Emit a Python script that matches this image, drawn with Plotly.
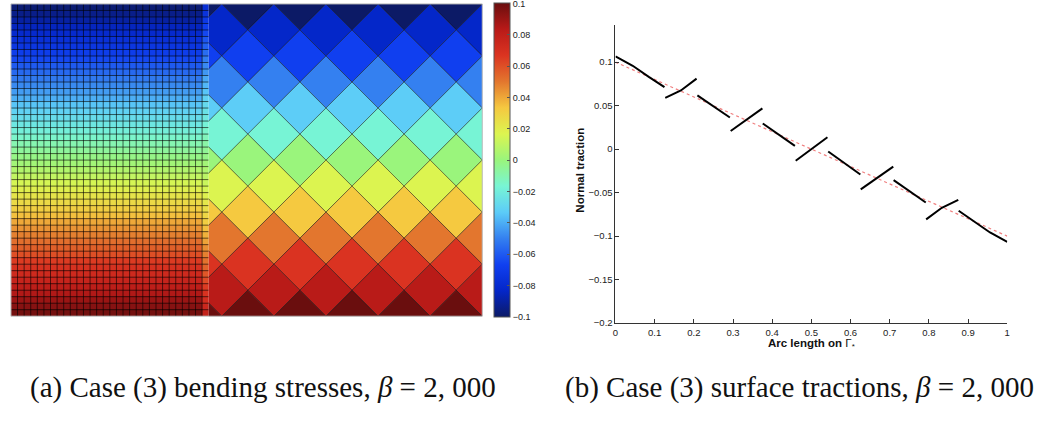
import plotly.graph_objects as go
from plotly.colors import sample_colorscale

# ---------------- data ----------------
# (a) fine mesh: stress per row (top -> bottom), 48 rows x 30 columns
fine_row_stress = [-0.098, -0.094, -0.090, -0.085, -0.081, -0.077, -0.073, -0.069,
                   -0.065, -0.060, -0.056, -0.052, -0.048, -0.044, -0.040, -0.035,
                   -0.031, -0.027, -0.023, -0.019, -0.015, -0.010, -0.006, -0.002,
                   0.002, 0.006, 0.010, 0.015, 0.019, 0.023, 0.027, 0.031,
                   0.035, 0.040, 0.044, 0.048, 0.052, 0.056, 0.060, 0.065,
                   0.069, 0.073, 0.077, 0.081, 0.085, 0.090, 0.094, 0.098]
# last (interface) column of the fine mesh
interface_col_stress = [-0.078, -0.075, -0.071, -0.068, -0.065, -0.061, -0.058, -0.055,
                        -0.051, -0.048, -0.045, -0.041, -0.038, -0.035, -0.031, -0.028,
                        -0.025, -0.022, -0.018, -0.015, -0.012, -0.008, -0.005, -0.002,
                        0.002, 0.005, 0.008, 0.012, 0.015, 0.018, 0.022, 0.025,
                        0.028, 0.031, 0.035, 0.038, 0.041, 0.045, 0.048, 0.051,
                        0.055, 0.058, 0.061, 0.065, 0.068, 0.071, 0.075, 0.078]
n_fine_cols = 30
# (a) coarse rotated mesh: stress per diamond row (top -> bottom)
diamond_row_stress = [-0.1, -0.083, -0.067, -0.05, -0.033, -0.017, 0.0,
                      0.017, 0.033, 0.05, 0.067, 0.083, 0.1]
n_diamonds_per_row = 6
colorbar_ticks = [-0.1, -0.08, -0.06, -0.04, -0.02, 0, 0.02, 0.04, 0.06, 0.08, 0.1]
colorbar_ticktext = ["\u22120.1", "\u22120.08", "\u22120.06", "\u22120.04", "\u22120.02",
                     "0", "0.02", "0.04", "0.06", "0.08", "0.1"]

# (b) normal traction along Gamma_*, element by element
seg_s = [[0.0, 0.044, 0.085, 0.125], [0.127, 0.167, 0.207], [0.209, 0.292],
         [0.294, 0.375], [0.376, 0.458], [0.460, 0.541], [0.543, 0.625],
         [0.626, 0.709], [0.710, 0.792], [0.793, 0.833, 0.875],
         [0.876, 0.915, 0.956, 1.0]]
seg_v = [[0.1065, 0.0958, 0.083, 0.0712], [0.059, 0.0674, 0.081], [0.0617, 0.0364],
         [0.0208, 0.0469], [0.0295, 0.0038], [-0.0133, 0.0136], [-0.0027, -0.0292],
         [-0.0462, -0.0201], [-0.0356, -0.0614], [-0.0807, -0.0674, -0.0583],
         [-0.0708, -0.083, -0.0958, -0.1065]]
ref_s = [0.0, 1.0]
ref_v = [0.1, -0.1]

# ---------------- styling ----------------
W, H = 1053, 423
def PX(p): return p / W
def PY(p): return 1 - p / H

stops = ['#0C1A66', '#0426C8', '#1040F0', '#3480F0', '#5CCCF8', '#78F5D4', '#9AF57C',
         '#DCF550', '#F5C840', '#E3762E', '#DB3421', '#B81A18', '#6A0E0E']
cscale = [[i / 12, c] for i, c in enumerate(stops)]
VMIN, VMAX = -0.1, 0.1
def vcolor(v):
    t = min(1, max(0, (v - VMIN) / (VMAX - VMIN)))
    return sample_colorscale(cscale, [t])[0]

fig = go.Figure()

# fine mesh heatmap
z = [[fine_row_stress[r]] * (n_fine_cols - 1) + [interface_col_stress[r]]
     for r in range(len(fine_row_stress))]
nrows = len(fine_row_stress)
fig.add_trace(go.Heatmap(
    z=z, x=[c + 0.5 for c in range(n_fine_cols)], y=[r + 0.5 for r in range(nrows)],
    colorscale=cscale, zmin=VMIN - 0.0002, zmax=VMAX + 0.0002, hoverinfo='skip',
    xaxis='x', yaxis='y',
    colorbar=dict(x=PX(494), xanchor='left', xpad=0, y=PY(321), yanchor='bottom',
                  ypad=0, len=318 / H, lenmode='fraction', thickness=16,
                  thicknessmode='pixels', outlinewidth=1, outlinecolor='#555',
                  tickvals=colorbar_ticks, ticktext=colorbar_ticktext,
                  ticks='inside', ticklen=3, tickcolor='#555',
                  ticklabeloverflow='allow',
                  tickfont=dict(family='Arial', size=9, color='#222'))))

# fine mesh lines
gx, gy = [], []
for k in range(1, n_fine_cols):
    gx += [k, k, None]; gy += [0, nrows, None]
for r in range(1, nrows):
    gx += [0, n_fine_cols, None]; gy += [r, r, None]
fig.add_trace(go.Scatter(x=gx, y=gy, mode='lines', xaxis='x', yaxis='y',
                         line=dict(color='rgba(0,0,0,0.6)', width=1), hoverinfo='skip'))

# diamonds
nrow_d = len(diamond_row_stress)
for j, v in enumerate(diamond_row_stress):
    yc = (nrow_d - 1) - j
    off = -0.5 if j % 2 == 0 else 0.5
    xs, ys = [], []
    for k in range(n_diamonds_per_row):
        xc = off + 2 * k
        xs += [xc - 1, xc, xc + 1, xc, xc - 1, None]
        ys += [yc, yc + 1, yc, yc - 1, yc, None]
    fig.add_trace(go.Scatter(x=xs, y=ys, mode='lines', fill='toself',
                             fillcolor=vcolor(v), xaxis='x2', yaxis='y2',
                             line=dict(color='rgba(0,0,0,0.6)', width=0.7),
                             hoverinfo='skip'))

# traction plot
fig.add_trace(go.Scatter(x=ref_s, y=ref_v, mode='lines', xaxis='x3', yaxis='y3',
                         line=dict(color='#F08080', width=1.2, dash='dot')))
tx, ty = [], []
for s, v in zip(seg_s, seg_v):
    tx += s + [None]; ty += v + [None]
fig.add_trace(go.Scatter(x=tx, y=ty, mode='lines', xaxis='x3', yaxis='y3',
                         line=dict(color='black', width=2)))

hid = dict(visible=False, showgrid=False, zeroline=False, fixedrange=True)
tickfont = dict(family='Arial', size=9.5, color='#222')
fig.update_layout(
    width=W, height=H, margin=dict(l=0, r=0, t=0, b=0),
    paper_bgcolor='white', plot_bgcolor='white', showlegend=False,
    xaxis=dict(domain=[PX(8), PX(206.9)], range=[0, n_fine_cols], anchor='y', **hid),
    yaxis=dict(domain=[PY(320), PY(4)], range=[nrows, 0], anchor='x', **hid),
    xaxis2=dict(domain=[PX(206.9), PX(482)], range=[0, 10.5], anchor='y2', **hid),
    yaxis2=dict(domain=[PY(320), PY(4)], range=[0, 12], anchor='x2', **hid),
    xaxis3=dict(domain=[PX(616), PX(1010)], range=[0, 1], anchor='y3',
                showgrid=False, zeroline=False, showline=True, linecolor='#333',
                linewidth=1, ticks='inside', ticklen=4, tickcolor='#333',
                tick0=0, dtick=0.1, tickfont=tickfont),
    yaxis3=dict(domain=[PY(327), PY(25)], range=[-0.2, 0.143], anchor='x3',
                showgrid=False, zeroline=False, showline=True, linecolor='#333',
                linewidth=1, ticks='inside', ticklen=4, tickcolor='#333',
                tick0=0, dtick=0.05, tickfont=tickfont),
)

# border of panel (a)
fig.add_shape(type='rect', xref='paper', yref='paper', x0=PX(8), x1=PX(482),
              y0=PY(320), y1=PY(4), line=dict(color='#b8b8b8', width=1))

# axis titles
fig.add_annotation(text='<b>Arc length on </b>\u0393<sub>*</sub>', xref='paper', yref='paper',
                   x=PX(813), y=PY(348), showarrow=False, xanchor='center', yanchor='middle',
                   font=dict(family='Arial', size=11.5, color='#111'))
fig.add_annotation(text='<b>Normal traction</b>', xref='paper', yref='paper',
                   x=PX(580), y=PY(172), showarrow=False, textangle=-90,
                   xanchor='center', yanchor='middle',
                   font=dict(family='Arial', size=11.5, color='#111'))

# captions
cap_font = dict(family='Liberation Serif', size=29, color='#111')
fig.add_annotation(text='(a) Case (3) bending stresses, <i>\u03b2</i> = 2, 000',
                   xref='paper', yref='paper', x=PX(261), y=PY(392), showarrow=False,
                   xanchor='center', yanchor='middle', font=cap_font)
fig.add_annotation(text='(b) Case (3) surface tractions, <i>\u03b2</i> = 2, 000',
                   xref='paper', yref='paper', x=PX(801), y=PY(392), showarrow=False,
                   xanchor='center', yanchor='middle', font=cap_font)

fig.write_html('out.html', config={'displayModeBar': False},
               post_script="document.body.style.margin='0px';")
